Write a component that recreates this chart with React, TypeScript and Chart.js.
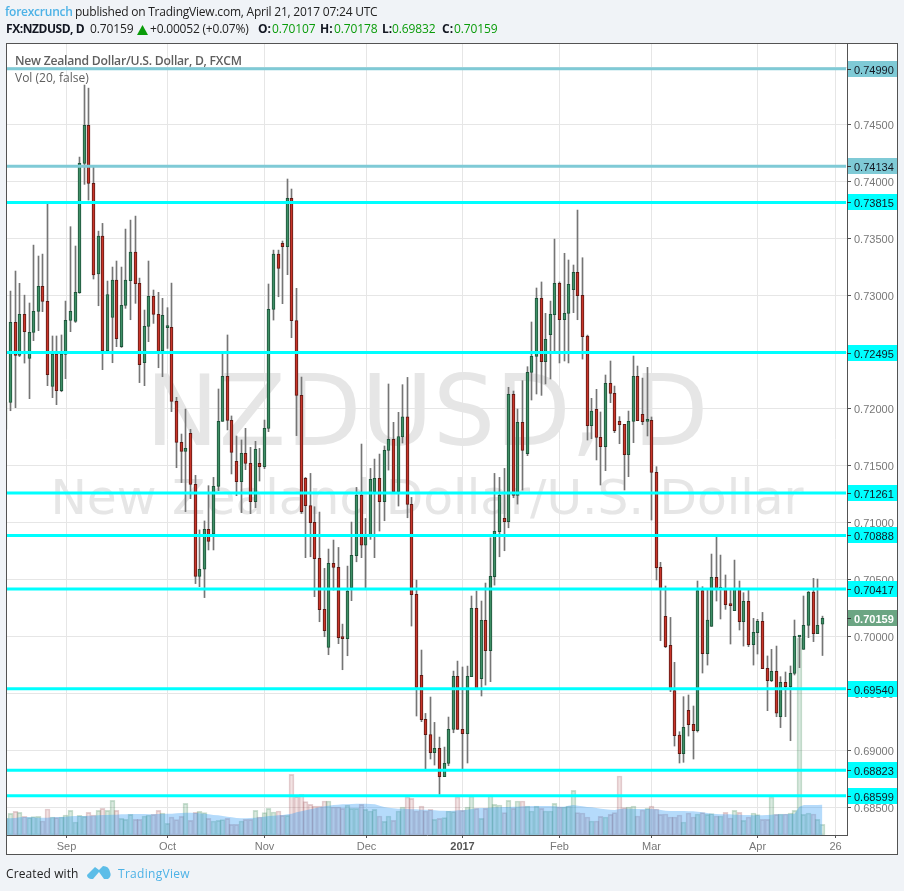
import React, { useEffect, useRef } from "react";
import { Chart, registerables } from "chart.js";

Chart.register(...registerables);

const opens = [
  .7182,.72058,.72761,.72471,.72831,.72444,.72673,.72858,.73077,.72945,
  .72198,.72483,.7216,.7248,.72778,.7277,.73021,.74158,.74492,.73982,
  .73186,.7352,.72509,.72805,.73133,.72547,.7291,.73127,.73379,.73104,
  .72406,.72726,.72989,.72831,.72512,.72714,.72717,.72066,.71706,.71627,
  .71785,.71337,.70528,.7059,.70941,.709,.71319,.71891,.72286,.71899,
  .71539,.7136,.71609,.71521,.71185,.71521,.71492,.71829,.72875,.73361,
  .73455,.73426,.73851,.72776,.72119,.71389,.71149,.71002,.70686,.70238,
  .69903,.70642,.70607,.69991,.6998,.70428,.70709,.71243,.70803,.70891,
  .71272,.71389,.71184,.71636,.71732,.71272,.71753,.71931,.7116,.70369,
  .69657,.69271,.69136,.68978,.69016,.68767,.68884,.69183,.69649,.69183,
  .69145,.69646,.70246,.69628,.70141,.69874,.70525,.7092,.71037,.71008,
  .72128,.7124,.71882,.71607,.72321,.72462,.72972,.72415,.72653,.72828,
  .73104,.72784,.7284,.73048,.732,.72998,.72641,.71852,.71996,.7175,
  .71668,.72224,.72137,.7189,.71864,.71597,.7189,.72286,.71952,.7189,
  .71899,.71442,.70607,.70176,.69921,.69523,.69133,.68969,.6935,.69227,
  .69171,.70402,.69848,.70088,.70519,.70414,.70422,.70285,.70226,.70422,
  .70129,.70308,.69927,.70033,.70132,.69719,.69611,.69693,.69294,.69596,
  .69558,.69675,.69995,.69886,.70097,.7039,.70024,.70107,
];
const closes = [
  .7206,.72761,.72471,.72831,.72679,.72673,.72858,.73077,.72945,.72301,
  .72483,.7216,.72483,.72778,.72858,.73025,.74158,.74492,.73982,.73177,
  .7352,.72509,.73005,.73133,.72617,.7291,.73133,.73379,.73101,.72389,
  .72726,.72989,.72831,.72503,.72822,.72717,.72066,.71706,.71627,.71653,
  .71337,.70528,.7059,.70941,.70836,.71319,.71891,.72286,.71899,.71618,
  .7136,.71609,.71521,.71185,.71645,.71492,.71829,.72875,.73361,.73235,
  .73426,.73851,.72776,.72119,.71096,.71149,.71,.70683,.70235,.7005,
  .70642,.70607,.69988,.6998,.70399,.70712,.71243,.70803,.70891,.7138,
  .71389,.71184,.71636,.71732,.71272,.71756,.71931,.7116,.70366,.69552,
  .69268,.69136,.68978,.69016,.68767,.68884,.69183,.69649,.69183,.69145,
  .69649,.70246,.69534,.70141,.69874,.70528,.70923,.7124,.71008,.72128,
  .7124,.71882,.71636,.72321,.72462,.72972,.72415,.72612,.72831,.73104,
  .72784,.7284,.73095,.732,.72995,.72635,.71852,.71981,.7175,.71668,
  .72224,.72137,.71808,.71861,.71597,.7189,.72286,.71896,.71888,.71896,
  .71442,.70604,.70414,.6991,.69529,.69127,.68969,.692,.69224,.69171,
  .70402,.69848,.70144,.70519,.70422,.70431,.70279,.7027,.70414,.70129,
  .70308,.69927,.70036,.70132,.69716,.69611,.69693,.69324,.69596,.69558,
  .69675,.7,.7,.70097,.7039,.70024,.70097,.70159,
];
const highs = [
  .7206,.73036,.73212,.73104,.73,.72931,.7344,.73344,.73361,.73801,
  .72641,.72641,.7265,.72948,.73602,.73432,.74214,.74847,.7482,.74126,
  .73563,.73631,.73124,.73247,.733,.73247,.73581,.7366,.73695,.7315,
  .72869,.733,.73045,.73025,.72972,.7289,.73106,.72102,.71779,.71999,
  .7182,.71416,.70936,.71015,.71325,.71398,.72175,.72483,.7265,.71938,
  .71762,.71727,.71829,.71662,.71715,.71653,.71902,.73098,.73396,.73396,
  .73476,.74021,.73933,.7306,.7228,.71398,.71433,.7114,.71093,.70598,
  .70768,.70847,.70782,.70108,.70618,.71005,.7131,.71691,.71037,.71477,
  .71559,.71603,.71674,.72219,.71882,.7197,.72213,.72277,.71222,.70495,
  .6988,.69323,.69467,.69244,.69115,.69027,.69291,.69695,.69783,.69731,
  .69739,.70355,.70399,.70311,.70469,.70867,.71433,.71398,.71477,.7219,
  .72157,.71999,.72248,.72371,.72764,.73063,.73116,.7284,.72948,.73493,
  .73116,.73368,.73309,.73265,.73748,.73329,.72649,.72093,.72172,.71973,
  .72298,.72421,.72201,.71932,.71864,.71981,.72465,.72377,.72271,.72365,
  .71929,.71492,.70651,.70443,.70167,.69772,.69162,.6947,.69485,.69388,
  .70487,.70437,.70414,.70724,.70877,.70715,.7054,.70414,.70671,.70487,
  .70384,.70414,.70159,.7015,.70211,.69828,.69886,.69915,.69646,.69687,
  .6974,.70144,.70003,.70355,.70395,.7051,.70504,.70178,
];
const lows = [
  .7182,.71984,.72011,.7246,.72403,.7209,.726,.72688,.72855,.72204,
  .72099,.72037,.72151,.72266,.72679,.7276,.73016,.73974,.73836,.73142,
  .72907,.72345,.725,.72406,.72547,.7254,.72884,.72784,.72928,.72231,
  .72204,.72591,.72752,.72362,.72283,.72532,.71976,.71483,.71352,.71097,
  .71211,.70464,.70437,.70341,.7076,.7076,.71281,.7189,.71815,.71428,
  .71237,.71088,.71466,.71079,.71132,.71366,.71475,.718,.72781,.72986,
  .72925,.7318,.72626,.71765,.71081,.70692,.707,.70349,.70129,.69997,
  .69839,.70407,.69936,.69707,.6983,.70314,.70656,.70692,.70422,.70853,
  .70692,.70926,.71017,.71462,.71272,.71146,.717,.71043,.70091,.693,
  .6925,.68834,.68922,.68869,.68611,.68767,.68863,.69153,.69183,.68834,
  .68887,.69646,.69534,.69476,.69572,.69602,.70451,.707,.70753,.70955,
  .71219,.71163,.71286,.71589,.72078,.72131,.72119,.72219,.72263,.72491,
  .72404,.72421,.72404,.72846,.72784,.72438,.71726,.71738,.71551,.71331,
  .71457,.72055,.71791,.71694,.71287,.71404,.71703,.71896,.71861,.71762,
  .71023,.70496,.69962,.69901,.69514,.69036,.68887,.68893,.69124,.68922,
  .69159,.69678,.69748,.70088,.70311,.70153,.70238,.69933,.70226,.70056,
  .69915,.6991,.69748,.69845,.69716,.69347,.69602,.69294,.69198,.69294,
  .69083,.69661,.69725,.69886,.69989,.69954,.70024,.69832,
];
const volumes = [
  50,65,71,68,56,52,55,56,42,78,
  54,52,54,60,74,39,59,56,68,60,
  74,80,74,104,74,50,47,62,47,47,
  57,60,62,74,66,35,54,46,56,95,
  44,68,71,67,50,42,44,46,50,32,
  32,42,47,47,74,54,67,80,69,72,
  59,59,182,115,122,100,92,87,87,102,
  102,84,84,80,90,80,80,92,77,72,
  77,57,41,57,44,72,84,114,110,72,
  87,72,77,47,50,52,72,70,114,74,
  84,117,80,50,80,120,92,90,67,104,
  80,102,102,87,72,87,80,72,72,95,
  84,84,87,134,67,66,54,42,42,56,
  54,62,67,177,82,84,87,57,75,80,
  87,78,62,63,54,54,60,39,66,54,
  63,67,62,64,57,57,68,51,74,68,
  44,54,66,61,47,47,114,62,63,63,
  66,74,591,62,66,63,47,32,
];
const volumeAverage = [
  50,50,51,53,54,54,53,52,52,52,
  53,54,54,55,56,57,57,57,58,58,
  59,60,60,61,61,62,62,63,63,63,
  63,62,62,63,63,64,64,65,66,67,
  67,66,65,64,62,60,59,57,55,53,
  51,50,50,51,52,53,55,57,58,59,
  60,62,64,68,71,74,77,80,83,86,
  88,90,91,92,92,93,94,94,94,93,
  92,88,84,82,80,79,79,78,77,77,
  76,76,75,74,73,73,72,73,74,74,
  76,78,80,81,81,82,83,83,84,84,
  85,85,86,86,87,87,87,87,87,86,
  85,85,88,90,88,86,84,83,81,79,
  77,76,75,78,79,79,78,78,78,78,
  78,77,75,73,72,72,72,72,71,71,
  70,68,66,64,63,62,62,62,61,61,
  60,60,59,59,59,60,61,62,62,63,
  63,64,85,90,90,90,90,91,
];
const indexTicks = [13.13, 35.02, 56.05, 78.17, 98.98, 120.01, 139.96, 162.94, 179.85];
const indexTickLabels = ["Sep", "Oct", "Nov", "Dec", "2017", "Feb", "Mar", "Apr", "26"];
const paleLevels = [0.7499, 0.74134];
const brightLevels = [0.73815, 0.72495, 0.71261, 0.70888, 0.70417, 0.6954, 0.68823, 0.68599];
const lastPrice = 0.70159;
const quotes = [
  ["O:", "0.70107", 258, 272],
  ["H:", "0.70178", 320, 334],
  ["L:", "0.69832", 382, 392],
  ["C:", "0.70159", 442, 454],
] as const;

const UP = "#3f8f66", UP_EDGE = "#1d5339", DOWN = "#c8352a", DOWN_EDGE = "#5e1a14";
const PALE = "#7fcad6", BRIGHT = "#00ffff";
const FONT = '"Open Sans", sans-serif';
const isUp = (i: number) => closes[i] >= opens[i];

const chartDecor = {
  id: "decor",
  afterDatasetsUpdate(c: any) {
    // snap every bar to the device pixel grid, the way the reference's renderer does
    c.getSortedVisibleDatasetMetas().forEach((meta: any) => {
      if (meta.type !== "bar") return;
      meta.data.forEach((el: any) => {
        el.x = Math.floor(el.x) + 0.5;
      });
    });
  },
  beforeDraw(c: any) {
    const g = c.ctx;
    g.save();
    g.fillStyle = "#fff";
    g.fillRect(6, 43, 891, 812);
    g.restore();
    c.scales.y.getLabelItems().forEach((it: any) => {
      it.options.translation[1] += 1.5;
    });
  },
  beforeDatasetsDraw(c: any) {
    const g = c.ctx;
    g.save();
    g.fillStyle = "#e6e6e6";
    g.textAlign = "center";
    g.textBaseline = "alphabetic";
    g.font = '98px "DejaVu Sans"';
    g.fillText("NZDUSD, D", 427, 445);
    g.font = '48.7px "DejaVu Sans"';
    g.fillText("New Zealand Dollar/U.S. Dollar", 427, 514);
    g.restore();
  },
  afterDraw(c: any) {
    const g = c.ctx;
    const y = c.scales.y;
    g.save();
    g.textBaseline = "middle";
    const box = (v: number, bg: string, fg: string, bold = false) => {
      const py = Math.round(y.getPixelForValue(v));
      g.fillStyle = bg;
      g.fillRect(848, py - 8, 49, 16);
      g.fillStyle = "#333";
      g.fillRect(847, py, 4, 1);
      g.fillStyle = fg;
      g.font = (bold ? "bold " : "") + '11px "Liberation Sans"';
      g.fillText(v.toFixed(5), 854, py + 1.5);
    };
    paleLevels.forEach((v) => box(v, PALE, "#131722"));
    brightLevels.forEach((v) => box(v, BRIGHT, "#131722"));
    box(lastPrice, "#6ba583", "#ffffff", true);
    g.strokeStyle = "#535353";
    g.lineWidth = 1;
    g.strokeRect(6.5, 43.5, 891, 811);
    g.textBaseline = "alphabetic";
    g.fillStyle = "#5f5f5f";
    g.font = `600 12.2px ${FONT}`;
    g.letterSpacing = "-0.24px";
    g.fillText("New Zealand Dollar/U.S. Dollar, D, FXCM", 15, 65);
    g.letterSpacing = "0px";
    g.font = `12px ${FONT}`;
    g.fillText("Vol (20, false)", 15, 82);
    g.restore();
  },
};

export default function App() {
  const ref = useRef<HTMLCanvasElement | null>(null);
  useEffect(() => {
    if (!ref.current) return;
    const idx = opens.map((_, i) => i);
    const xMin = 0.23, xMax = 182.34;
    const levelSet = (v: number, color: string) => ({
      type: "line" as const,
      data: [{ x: xMin, y: v }, { x: xMax - 0.2, y: v }],
      borderColor: color,
      borderWidth: 3,
      pointRadius: 0,
      yAxisID: "y",
      order: 0,
    });
    const chart = new Chart(ref.current, {
      type: "bar",
      data: {
        datasets: [
          ...paleLevels.map((v) => levelSet(v, PALE)),
          ...brightLevels.map((v) => levelSet(v, BRIGHT)),
          {
            data: idx.map((i) => ({ x: i, y: [opens[i], closes[i]] })),
            backgroundColor: idx.map((i) => (isUp(i) ? UP : DOWN)),
            borderColor: idx.map((i) => (isUp(i) ? UP_EDGE : DOWN_EDGE)),
            borderWidth: 1,
            borderSkipped: false,
            barThickness: 3,
            minBarLength: 2,
            grouped: false,
            yAxisID: "y",
            order: 1,
          },
          {
            data: idx.map((i) => ({ x: i, y: [lows[i], highs[i]] })),
            backgroundColor: "#757575",
            barThickness: 1,
            grouped: false,
            yAxisID: "y",
            order: 2,
          },
          {
            type: "line" as const,
            data: idx.map((i) => ({ x: i, y: volumeAverage[i] })),
            backgroundColor: "rgba(50,155,245,0.36)",
            borderWidth: 0,
            pointRadius: 0,
            fill: "origin",
            yAxisID: "vol",
            order: 3,
          },
          {
            data: idx.map((i) => ({ x: i, y: volumes[i] })),
            backgroundColor: idx.map((i) => (isUp(i) ? "rgba(70,150,100,0.2)" : "rgba(170,70,70,0.15)")),
            borderColor: idx.map((i) => (isUp(i) ? "rgba(70,140,95,0.28)" : "rgba(150,70,80,0.25)")),
            borderWidth: 1,
            borderSkipped: false,
            barThickness: 5,
            grouped: false,
            yAxisID: "vol",
            order: 4,
          },
        ] as any,
      },
      options: {
        responsive: false,
        animation: false,
        events: [],
        layout: { padding: { left: 7, top: 44, right: 7, bottom: 36 } },
        plugins: { legend: { display: false }, tooltip: { enabled: false } },
        scales: {
          x: {
            type: "linear",
            min: xMin,
            max: xMax,
            offset: false,
            afterBuildTicks: (a: any) => {
              a.ticks = indexTicks.map((value) => ({ value }));
            },
            afterFit: (a: any) => {
              a.height = 20;
            },
            border: { color: "#535353", width: 1 },
            grid: { color: "#e6e6e6", tickColor: "#535353", tickLength: 3, offset: false },
            ticks: {
              autoSkip: false,
              maxRotation: 0,
              padding: 2,
              color: (c: any) => (c.tick?.label === "2017" ? "#555" : "#777"),
              font: (c: any) => ({
                family: "Liberation Sans",
                size: 11,
                weight: c.tick?.label === "2017" ? "bold" : "normal",
              }),
              callback: (v: any) => indexTickLabels[indexTicks.indexOf(v)] ?? "",
            },
          },
          y: {
            type: "linear",
            position: "right",
            min: 0.68254,
            max: 0.75208,
            afterFit: (a: any) => {
              a.width = 50;
            },
            border: { color: "#535353", width: 1 },
            grid: { color: "#e6e6e6", tickColor: "#535353", tickLength: 4 },
            ticks: {
              stepSize: 0.005,
              includeBounds: false,
              padding: 3,
              color: "#777",
              font: { family: "Liberation Sans", size: 11 },
              callback: (v: any) => Number(v).toFixed(5),
            },
          },
          vol: { type: "linear", display: false, min: 0, max: 2373 },
        },
      } as any,
      plugins: [chartDecor],
    });
    return () => chart.destroy();
  }, []);

  const abs = (left: number, top: number, extra: React.CSSProperties = {}): React.CSSProperties => ({
    position: "absolute",
    left,
    top,
    whiteSpace: "nowrap",
    fontFamily: FONT,
    fontSize: 12,
    lineHeight: "18px",
    color: "#222",
    ...extra,
  });

  return (
    <div style={{ position: "fixed", left: 0, top: 0, width: 904, height: 891, overflow: "hidden", background: "#f0f3f7" }}>
      <canvas ref={ref} width={904} height={891} style={{ position: "absolute", left: 0, top: 0, display: "block" }} />
      <span style={abs(5, 3, { color: "#4db2e6", fontWeight: 600, letterSpacing: -0.25 })}>forexcrunch</span>
      <span style={abs(75, 3, { letterSpacing: -0.22 })}>published on TradingView.com, April 21, 2017 07:24 UTC</span>
      <span style={abs(6, 20, { fontWeight: 700, color: "#131722", letterSpacing: -0.45 })}>FX:NZDUSD, D</span>
      <span style={abs(90, 20, { letterSpacing: -0.1 })}>0.70159</span>
      <svg style={{ position: "absolute", left: 137, top: 25 }} width={11} height={10}>
        <polygon points="5.5,0 11,10 0,10" fill="#0a9c0a" />
      </svg>
      <span style={abs(150, 20, { letterSpacing: -0.2 })}>+0.00052 (+0.07%)</span>
      {quotes.map(([k, v, kx, vx]) => (
        <React.Fragment key={k}>
          <span style={abs(kx, 20, { fontWeight: 700, color: "#131722" })}>{k}</span>
          <span style={abs(vx, 20, { color: "#0a9c0a", letterSpacing: -0.1 })}>{v}</span>
        </React.Fragment>
      ))}
      <span style={abs(6, 865, { letterSpacing: 0.1 })}>Created with</span>
      <svg style={{ position: "absolute", left: 87, top: 865 }} width={25} height={15}>
        <path d="M0 10 L8 2 L12 5 L16 1 Q22 1 23 7 Q25 11 21 14 L4 14 Q0 13 0 10 Z" fill="#5cbde8" />
        <path d="M6 14 L12 7 L17 14 Z" fill="#f0f3f7" />
      </svg>
      <span style={abs(118, 865, { color: "#4db2e6", letterSpacing: 0.3 })}>TradingView</span>
    </div>
  );
}
